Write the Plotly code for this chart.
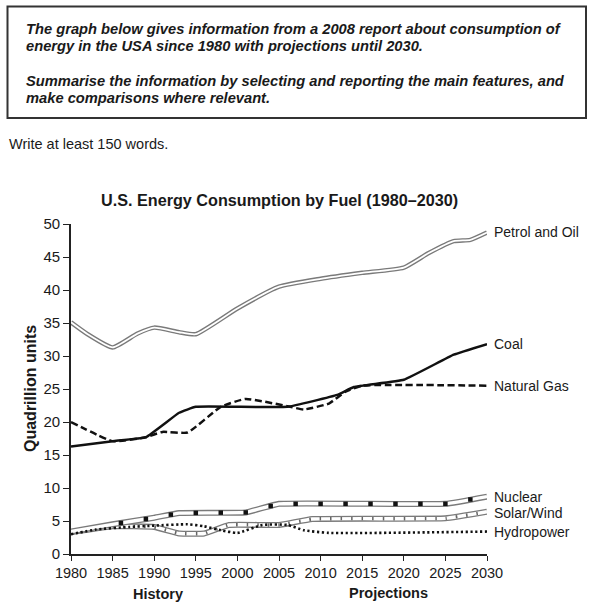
import numpy as np
import plotly.graph_objects as go

# ---------------- data ----------------
petrol_years = [1980, 1982, 1985, 1988, 1990, 1993, 1995, 2000, 2005, 2010, 2015, 2020, 2023, 2026, 2028, 2030]
petrol_vals = [35.1, 33.3, 31.3, 33.4, 34.3, 33.6, 33.3, 37.2, 40.5, 41.7, 42.6, 43.4, 45.6, 47.4, 47.6, 48.7]

coal_years = [1980, 1985, 1989, 1993, 1995, 2006, 2012, 2014, 2020, 2026, 2030]
coal_vals = [16.3, 17.1, 17.7, 21.4, 22.3, 22.3, 24.1, 25.3, 26.4, 30.2, 31.8]

gas_years = [1980, 1985, 1989, 1991, 1994, 1998, 2001, 2006, 2008, 2011, 2013, 2015, 2030]
gas_vals = [20.0, 17.1, 17.7, 18.5, 18.4, 22.3, 23.5, 22.4, 21.9, 22.8, 24.6, 25.5, 25.5]

nuclear_years = [1980, 1985, 1990, 1993, 2001, 2005, 2025, 2030]
nuclear_vals = [3.4, 4.5, 5.5, 6.2, 6.3, 7.6, 7.6, 8.7]
nuclear_marker_years = list(range(1986, 2029, 3))

solar_years = [1980, 1985, 1990, 1993, 1996, 1999, 2005, 2009, 2025, 2030]
solar_vals = [3.3, 4.2, 4.1, 3.1, 3.1, 4.4, 4.4, 5.3, 5.4, 6.4]

hydro_years = [1980, 1983, 1987, 1990, 1994, 1996, 1998, 2000, 2003, 2006, 2008, 2011, 2030]
hydro_vals = [3.0, 3.7, 4.1, 4.3, 4.5, 4.2, 3.6, 3.2, 4.4, 4.4, 3.6, 3.2, 3.4]

series_labels = ["Petrol and Oil", "Coal", "Natural Gas", "Nuclear", "Solar/Wind", "Hydropower"]
x_ticks = [1980, 1985, 1990, 1995, 2000, 2005, 2010, 2015, 2020, 2025, 2030]
y_ticks = [0, 5, 10, 15, 20, 25, 30, 35, 40, 45, 50]

title_text = "U.S. Energy Consumption by Fuel (1980\u20132030)"
task_lines = [
    "The graph below gives information from a 2008 report about consumption of",
    "energy in the USA since 1980 with projections until 2030.",
    "Summarise the information by selecting and reporting the main features, and",
    "make comparisons where relevant.",
]
instruction = "Write at least 150 words."

# ---------------- figure ----------------
W, H = 592, 608
L, R, T, B = 71, 105, 224, 54
PW, PH = W - L - R, H - T - B


def px_x(px):
    return (px - L) / PW


def px_y(py):
    return (H - B - py) / PH


FONT = "Liberation Sans, Arial, sans-serif"
INK = "#1a1a1a"
GREY = "#7a7a7a"

fig = go.Figure()

# Petrol and Oil (double grey line)
fig.add_trace(go.Scatter(x=petrol_years, y=petrol_vals, mode="lines",
                         line=dict(color=GREY, width=4.5, shape="spline", smoothing=0.5)))
fig.add_trace(go.Scatter(x=petrol_years, y=petrol_vals, mode="lines",
                         line=dict(color="white", width=1.8, shape="spline", smoothing=0.5)))

# Coal
fig.add_trace(go.Scatter(x=coal_years, y=coal_vals, mode="lines",
                         line=dict(color="#111", width=2.5, shape="spline", smoothing=0.3)))

# Natural gas
fig.add_trace(go.Scatter(x=gas_years, y=gas_vals, mode="lines",
                         line=dict(color="#111", width=2.5, dash="7px,3.5px", shape="spline", smoothing=0.4)))

# Solar/Wind (double line with hatch)
fig.add_trace(go.Scatter(x=solar_years, y=solar_vals, mode="lines",
                         line=dict(color=GREY, width=6, shape="spline", smoothing=0.3)))
fig.add_trace(go.Scatter(x=solar_years, y=solar_vals, mode="lines",
                         line=dict(color="white", width=3.4, shape="spline", smoothing=0.3)))
fig.add_trace(go.Scatter(x=solar_years, y=solar_vals, mode="lines",
                         line=dict(color="#666", width=3.4, dash="1.5px,9px", shape="spline", smoothing=0.3)))

# Nuclear (double line with square markers)
fig.add_trace(go.Scatter(x=nuclear_years, y=nuclear_vals, mode="lines",
                         line=dict(color=GREY, width=6, shape="spline", smoothing=0.3)))
fig.add_trace(go.Scatter(x=nuclear_years, y=nuclear_vals, mode="lines",
                         line=dict(color="white", width=3.4, shape="spline", smoothing=0.3)))
fig.add_trace(go.Scatter(x=nuclear_marker_years,
                         y=np.interp(nuclear_marker_years, nuclear_years, nuclear_vals),
                         mode="markers",
                         marker=dict(symbol="square", size=4.5, color="#111", line=dict(width=0))))

# Hydropower (dotted)
fig.add_trace(go.Scatter(x=hydro_years, y=hydro_vals, mode="lines",
                         line=dict(color="#111", width=2.6, dash="2.2px,2.6px", shape="spline", smoothing=0.5)))

annotations = []

# series end labels
ends = [petrol_vals[-1], coal_vals[-1], gas_vals[-1], nuclear_vals[-1], solar_vals[-1], hydro_vals[-1]]
shifts = [1, 0, 0, 0, -1, 0]
for lab, yv, sh in zip(series_labels, ends, shifts):
    annotations.append(dict(x=2030, y=yv, xref="x", yref="y", text=lab, showarrow=False,
                            xanchor="left", yanchor="middle", xshift=5, yshift=sh,
                            font=dict(family=FONT, size=14, color=INK)))

# title
annotations.append(dict(x=px_x(279), y=px_y(200), xref="paper", yref="paper", text="<b>" + title_text + "</b>",
                        showarrow=False, xanchor="center", yanchor="middle",
                        font=dict(family=FONT, size=16.2, color=INK)))

# y-axis title
annotations.append(dict(x=px_x(30), y=px_y(389), xref="paper", yref="paper", text="<b>Quadrillion units</b>",
                        showarrow=False, xanchor="center", yanchor="middle", textangle=-90,
                        font=dict(family=FONT, size=16, color=INK)))

# History / Projections
annotations.append(dict(x=px_x(158), y=px_y(594), xref="paper", yref="paper", text="<b>History</b>",
                        showarrow=False, xanchor="center", yanchor="middle",
                        font=dict(family=FONT, size=14.5, color=INK)))
annotations.append(dict(x=px_x(388), y=px_y(593), xref="paper", yref="paper", text="<b>Projections</b>",
                        showarrow=False, xanchor="center", yanchor="middle",
                        font=dict(family=FONT, size=14.5, color=INK)))

# task box text
for line, py in zip(task_lines, [29, 46, 81, 98]):
    annotations.append(dict(x=px_x(24), y=px_y(py), xref="paper", yref="paper", text="<b><i>" + line + "</i></b>",
                            showarrow=False, xanchor="left", yanchor="middle",
                            font=dict(family=FONT, size=14.7, color=INK)))
annotations.append(dict(x=px_x(7), y=px_y(144), xref="paper", yref="paper", text=instruction,
                        showarrow=False, xanchor="left", yanchor="middle",
                        font=dict(family=FONT, size=14.5, color=INK)))

shapes = [dict(type="rect", xref="paper", yref="paper",
               x0=px_x(7.5), x1=px_x(586), y0=px_y(118), y1=px_y(6.5),
               line=dict(color="#333", width=2), fillcolor="rgba(0,0,0,0)")]

fig.update_layout(
    width=W, height=H, autosize=False,
    margin=dict(l=L, r=R, t=T, b=B, pad=0),
    paper_bgcolor="white", plot_bgcolor="white",
    showlegend=False,
    annotations=annotations,
    shapes=shapes,
    font=dict(family=FONT, color=INK),
)
fig.update_xaxes(range=[1980, 2030], tickvals=x_ticks, ticktext=[str(v) for v in x_ticks],
                 showgrid=False, zeroline=False, showline=True, linecolor="#222", linewidth=1.6,
                 ticks="outside", ticklen=5, tickwidth=1.4, tickcolor="#222",
                 tickfont=dict(family=FONT, size=14.5, color=INK), fixedrange=True)
fig.update_yaxes(range=[0, 50], tickvals=y_ticks, ticktext=[str(v) for v in y_ticks],
                 showgrid=False, zeroline=False, showline=True, linecolor="#222", linewidth=1.6,
                 ticks="outside", ticklen=6, tickwidth=1.4, tickcolor="#222",
                 tickfont=dict(family=FONT, size=15, color=INK), fixedrange=True)

fig.write_html("out.html", config={"displayModeBar": False},
               post_script="document.body.style.margin='0';document.body.style.overflow='hidden';")
